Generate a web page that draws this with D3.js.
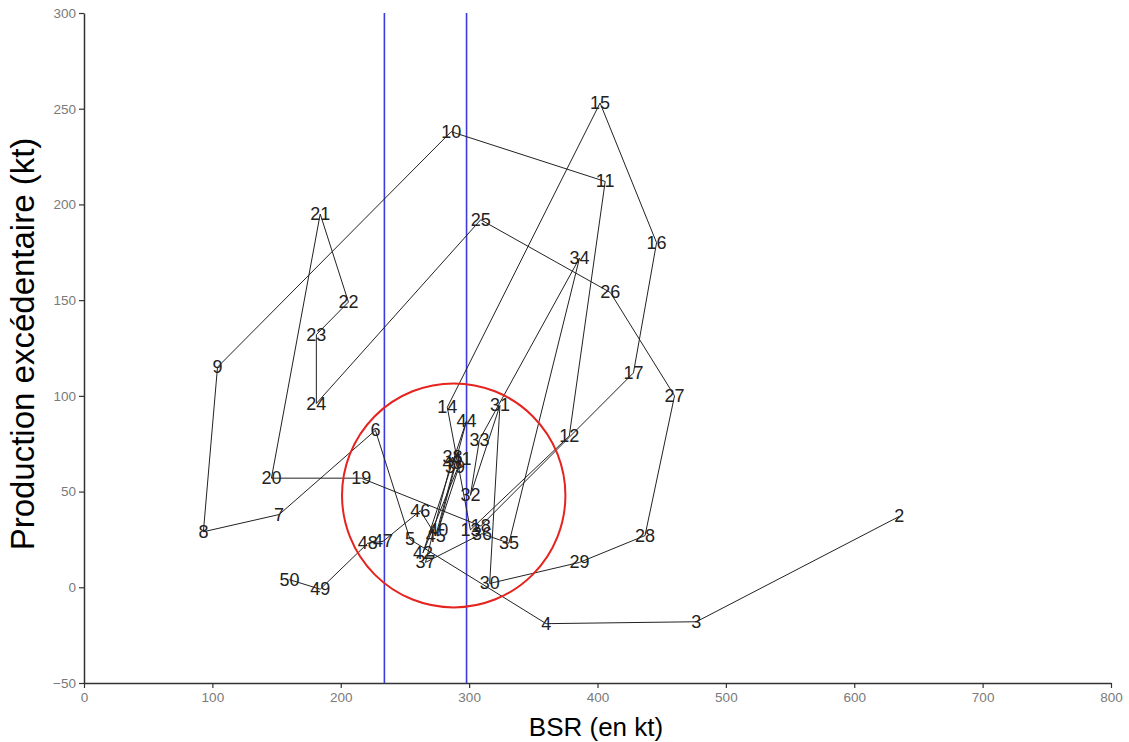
<!DOCTYPE html>
<html>
<head>
<meta charset="utf-8">
<script src="https://cdn.jsdelivr.net/npm/d3@7"></script>
<style>
  html, body { margin: 0; padding: 0; background: #fff; }
  svg { display: block; }
</style>
</head>
<body>
<svg id="chart" width="1129" height="742"></svg>
<script>
// Year labels along the trajectory
const years = [2,3,4,5,6,7,8,9,10,11,12,13,14,15,16,17,18,19,20,21,22,23,24,25,26,27,28,29,30,31,32,33,34,35,36,37,38,39,40,41,42,43,44,45,46,47,48,49,50];
// BSR (kt)
const bsr = [635,477,360,254,227,152,93,104,286,406,378,301,283,402,446,428,309,216,146,184,206,181,181,309,410,460,437,386,316,324,301,308,386,331,310,266,287,289,276,294,264,287,298,274,262,233,221,184,160];
// Surplus production (kt)
const prod = [37,-18,-19,25,82,38,29,115,238,212,79,30,94,253,180,112,32,57,57,195,149,132,96,192,154,100,27,13,2,95,48,77,172,23,28,13,68,63,30,67,18,65,87,27,40,24,23,-1,4];
// Reference lines (BSR)
const refLines = [234, 298];
// Highlight circle: centre (BSR, prod) and radii in data units
const circleCentre = [288, 48];
const circleRadius = [87, 58.5];
// Axis ticks
const xTicks = [0,100,200,300,400,500,600,700,800];
const yTicks = [-50,0,50,100,150,200,250,300];

const svg = d3.select("#chart");
const x = d3.scaleLinear().domain([0, 800]).range([84, 1111]);
const y = d3.scaleLinear().domain([-50, 300]).range([683, 13]);

const data = years.map((yr, i) => ({yr, x: bsr[i], y: prod[i]}));
const font = "Arial, 'Liberation Sans', sans-serif";

// Axes
const xAxis = d3.axisBottom(x).tickValues(xTicks).tickSize(5).tickSizeOuter(0);
const yAxis = d3.axisLeft(y).tickValues(yTicks).tickSize(5).tickSizeOuter(0);

const gx = svg.append("g").attr("transform", `translate(0,${y(-50)})`).call(xAxis);
const gy = svg.append("g").attr("transform", `translate(${x(0)},0)`).call(yAxis);
[gx, gy].forEach(g => {
  g.select(".domain").attr("stroke", "#333").attr("stroke-width", 1.5);
  g.selectAll(".tick line").attr("stroke", "#333").attr("stroke-width", 1.2);
  g.selectAll(".tick text").attr("fill", "#7a7a7a")
    .style("font-family", font).style("font-size", "13.5px");
});
gx.selectAll(".tick text").attr("dy", "0.85em");

// Reference lines
svg.append("g").selectAll("line").data(refLines).join("line")
  .attr("x1", d => x(d)).attr("x2", d => x(d))
  .attr("y1", y(300)).attr("y2", y(-50))
  .attr("stroke", "#3b3bdc").attr("stroke-width", 1.6);

// Path
const line = d3.line().x(d => x(d.x)).y(d => y(d.y));
svg.append("path").datum(data)
  .attr("d", line)
  .attr("fill", "none")
  .attr("stroke", "#222")
  .attr("stroke-width", 1);

// Red circle
svg.append("ellipse")
  .attr("cx", x(circleCentre[0])).attr("cy", y(circleCentre[1]))
  .attr("rx", x(circleCentre[0] + circleRadius[0]) - x(circleCentre[0]))
  .attr("ry", y(circleCentre[1] - circleRadius[1]) - y(circleCentre[1]))
  .attr("fill", "none").attr("stroke", "#e5231f").attr("stroke-width", 2);

// Labels
svg.append("g").selectAll("text").data(data).join("text")
  .attr("x", d => x(d.x)).attr("y", d => y(d.y))
  .attr("text-anchor", "middle")
  .attr("dominant-baseline", "central")
  .attr("fill", "#222")
  .style("font-family", font)
  .style("font-size", "18px")
  .text(d => d.yr);

// Axis titles
svg.append("text")
  .attr("x", 596).attr("y", 736)
  .attr("text-anchor", "middle")
  .style("font-family", font)
  .style("font-size", "26px")
  .attr("fill", "#000")
  .text("BSR (en kt)");

svg.append("text")
  .attr("transform", `translate(34,${344}) rotate(-90)`)
  .attr("text-anchor", "middle")
  .style("font-family", font)
  .style("font-size", "33px")
  .attr("fill", "#000")
  .text("Production excédentaire (kt)");
</script>
</body>
</html>
